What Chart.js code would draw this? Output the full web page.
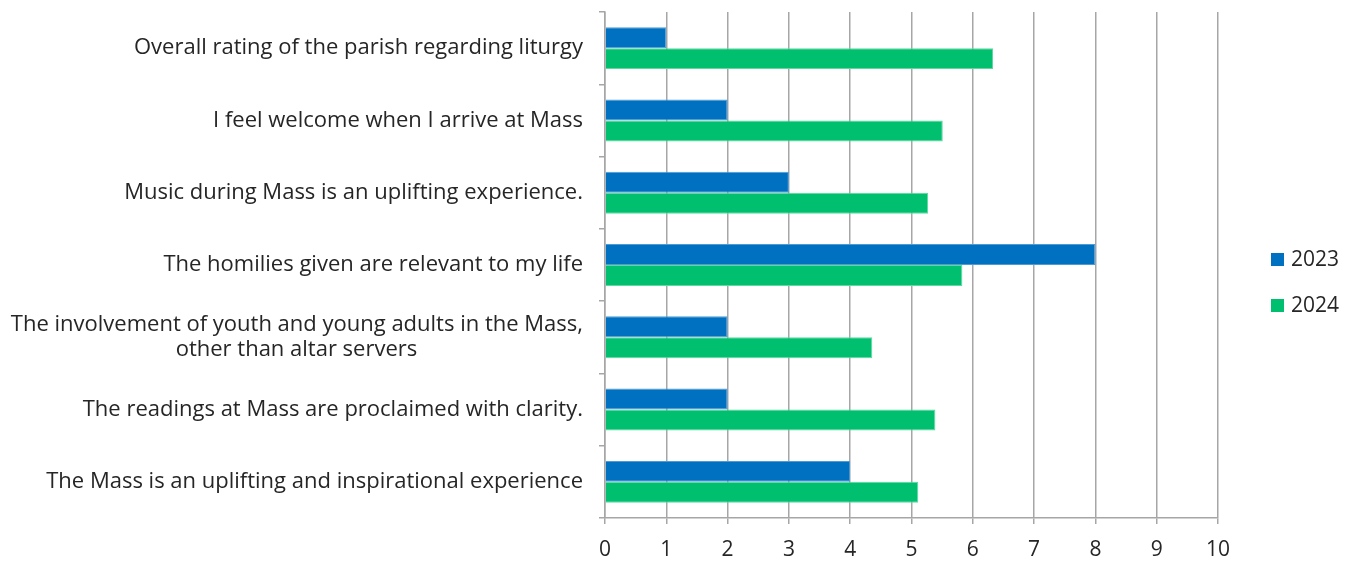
<!DOCTYPE html>
<html>
<head>
<meta charset="utf-8">
<script src="https://cdn.jsdelivr.net/npm/chart.js@4.4.1/dist/chart.umd.min.js"></script>
<style>
  html, body { margin: 0; padding: 0; background: #fff; }
  #wrap { width: 1357px; height: 563px; }
</style>
</head>
<body>
<div id="wrap"><canvas id="c" width="1357" height="563"></canvas></div>
<script>
// Survey questions (top to bottom)
const categories = [
  'Overall rating of the parish regarding liturgy',
  'I feel welcome when I arrive at Mass',
  'Music during Mass is an uplifting experience.',
  'The homilies given are relevant to my life',
  ['The involvement of youth and young adults in the Mass,', 'other than altar servers'],
  'The readings at Mass are proclaimed with clarity.',
  'The Mass is an uplifting and inspirational experience',
];
const seriesNames = ['2023', '2024'];
const values2023 = [1, 2, 3, 8, 2, 2, 4];
const values2024 = [6.33, 5.51, 5.27, 5.83, 4.36, 5.39, 5.11];
const xTicks = [0, 1, 2, 3, 4, 5, 6, 7, 8, 9, 10];

const FONT = '"Open Sans", Lato, Arial, sans-serif';
const FSIZE = 22;
const TEXT = '#262626';
const GRID = '#a6a6a6';

// centre the shorter lines of a wrapped label under the longest one
const measureCtx = document.createElement('canvas').getContext('2d');
function centerLines(label) {
  if (!Array.isArray(label)) return label;
  measureCtx.font = `${FSIZE}px ${FONT}`;
  const widths = label.map(l => measureCtx.measureText(l).width);
  const maxW = Math.max(...widths);
  const spaceW = measureCtx.measureText(' ').width;
  return label.map((l, i) => l + ' '.repeat(Math.round((maxW - widths[i]) / 2 / spaceW)));
}

// legend on the right, drawn beside the plot
const sideLegend = {
  id: 'sideLegend',
  afterDraw(chart) {
    const c = chart.ctx;
    const x = chart.chartArea.right + 53;
    const mid = (chart.chartArea.top + chart.chartArea.bottom) / 2;
    c.save();
    c.font = `${FSIZE - 1}px ${FONT}`;
    c.textBaseline = 'middle';
    chart.data.datasets.forEach((ds, i) => {
      const y = mid - 6 + i * 46;
      c.fillStyle = ds.backgroundColor;
      c.fillRect(x, y - 6, 13, 13);
      c.fillStyle = TEXT;
      c.fillText(ds.label, x + 20, y + 1);
    });
    c.restore();
  },
};

new Chart(document.getElementById('c'), {
  type: 'bar',
  plugins: [sideLegend],
  data: {
    labels: categories,
    datasets: [
      { label: seriesNames[0], data: values2023, backgroundColor: '#0070c0', borderColor: '#4d9bd6', borderWidth: 1 },
      { label: seriesNames[1], data: values2024, backgroundColor: '#00bf6f', borderColor: '#5fd8a0', borderWidth: 1 },
    ],
  },
  options: {
    indexAxis: 'y',
    responsive: false,
    animation: false,
    barPercentage: 1,
    categoryPercentage: 0.58,
    layout: { padding: { left: 0, top: 12, right: 139, bottom: 0 } },
    plugins: {
      tooltip: { enabled: false },
      legend: { display: false },
    },
    scales: {
      x: {
        min: 0,
        max: 10,
        afterBuildTicks: s => { s.ticks = xTicks.map(v => ({ value: v })); },
        ticks: { color: TEXT, font: { family: FONT, size: FSIZE - 1 }, padding: 13 },
        grid: { color: GRID, lineWidth: 1.5, tickLength: 6 },
        border: { color: GRID, width: 1.5 },
        afterFit: s => { s.height = 45; s.paddingLeft = 0; s.paddingRight = 0; },
      },
      y: {
        ticks: {
          color: TEXT,
          font: { family: FONT, size: FSIZE, lineHeight: 1.15 },
          padding: 16,
          callback(value) { return centerLines(this.getLabelForValue(value)); },
        },
        grid: { drawOnChartArea: false, color: GRID, lineWidth: 1.5, tickLength: 6, offset: true },
        border: { color: GRID, width: 1.5 },
        afterFit: s => { s.width = 605; s.paddingTop = 0; s.paddingBottom = 0; },
      },
    },
  },
});
</script>
</body>
</html>
